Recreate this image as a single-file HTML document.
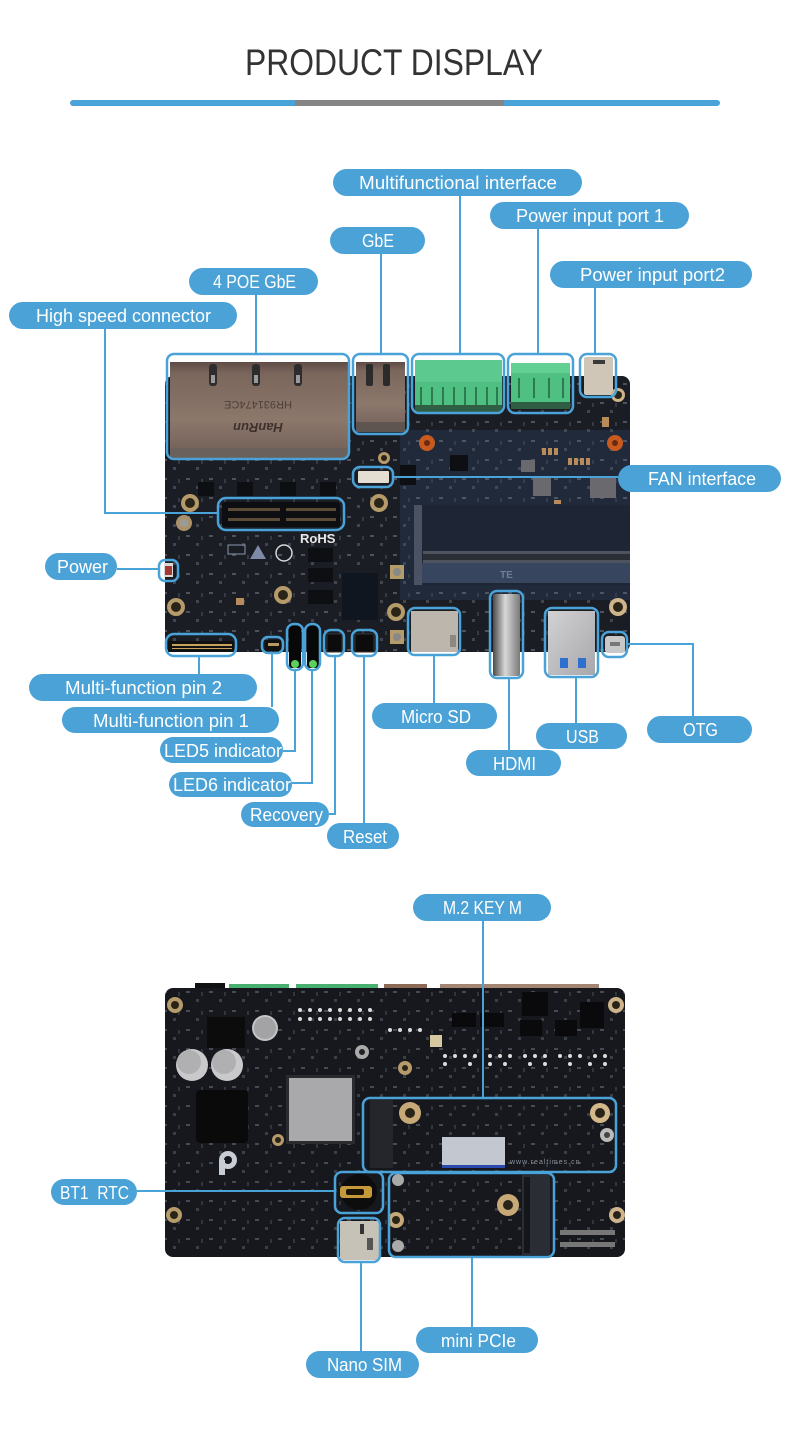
<!DOCTYPE html>
<html>
<head>
<meta charset="utf-8">
<style>
html,body{margin:0;padding:0;background:#fff;}
body{width:790px;height:1433px;overflow:hidden;}
svg{display:block;}
.pt{font-family:"Liberation Sans",sans-serif;font-size:18px;fill:#fff;}
</style>
</head>
<body>
<svg width="790" height="1433" viewBox="0 0 790 1433" xmlns="http://www.w3.org/2000/svg">
<defs>
  <linearGradient id="rj" x1="0" y1="0" x2="0" y2="1">
    <stop offset="0" stop-color="#5e4c45"/>
    <stop offset="0.12" stop-color="#7b665c"/>
    <stop offset="0.6" stop-color="#8c776b"/>
    <stop offset="1" stop-color="#6f5e57"/>
  </linearGradient>
  <linearGradient id="hdmi" x1="0" y1="0" x2="1" y2="0">
    <stop offset="0" stop-color="#4a4a4a"/>
    <stop offset="0.45" stop-color="#d8d8d8"/>
    <stop offset="1" stop-color="#7a7a7a"/>
  </linearGradient>
  <linearGradient id="silver" x1="0" y1="0" x2="1" y2="1">
    <stop offset="0" stop-color="#d2d2d4"/>
    <stop offset="1" stop-color="#a8a8ac"/>
  </linearGradient>
  <pattern id="spk" x="0" y="0" width="23" height="19" patternUnits="userSpaceOnUse">
    <rect x="2" y="3" width="4" height="2" fill="#5a5f6a"/>
    <rect x="12" y="11" width="3" height="3" fill="#4a4f5a"/>
    <rect x="17" y="4" width="2" height="4" fill="#3c414c"/>
  </pattern>
</defs>

<!-- Title -->
<text x="394" y="75" font-family="Liberation Sans, sans-serif" font-size="37" fill="#333" text-anchor="middle" textLength="298" lengthAdjust="spacingAndGlyphs">PRODUCT DISPLAY</text>
<rect x="70" y="100" width="650" height="6" rx="3" fill="#4aa3d8"/>
<rect x="295" y="100" width="209" height="6" fill="#858585"/>

<!-- ================= BOARD 1 ================= -->
<g>
  <rect x="165" y="376" width="465" height="276" rx="8" fill="#1b1d24"/>
  <rect x="400" y="430" width="230" height="170" fill="#212a3b"/>
  <rect x="165" y="376" width="465" height="276" rx="8" fill="url(#spk)" opacity="0.8"/>
  <!-- quad RJ45 -->
  <rect x="170" y="362" width="178" height="96" fill="url(#rj)"/>
  <rect x="170" y="448" width="178" height="10" fill="#6a605c"/>
  <rect x="209" y="364" width="8" height="22" rx="3" fill="#2e2c2c"/>
  <rect x="252" y="364" width="8" height="22" rx="3" fill="#2e2c2c"/>
  <rect x="294" y="364" width="8" height="22" rx="3" fill="#2e2c2c"/>
  <rect x="211" y="375" width="4" height="8" fill="#9a9a9a"/>
  <rect x="254" y="375" width="4" height="8" fill="#9a9a9a"/>
  <rect x="296" y="375" width="4" height="8" fill="#9a9a9a"/>
  <text x="258" y="409" font-family="Liberation Sans, sans-serif" font-size="11" fill="#4e3f38" text-anchor="middle" transform="rotate(180 258 405)">HR931474CE</text>
  <text x="258" y="433" font-family="Liberation Sans, sans-serif" font-size="13" font-weight="bold" font-style="italic" fill="#3e312c" text-anchor="middle" transform="rotate(180 258 428)">HanRun</text>
  <!-- single RJ45 -->
  <rect x="356" y="362" width="49" height="70" fill="url(#rj)"/>
  <rect x="366" y="364" width="7" height="22" rx="2" fill="#2b2b2b"/>
  <rect x="383" y="364" width="7" height="22" rx="2" fill="#2b2b2b"/>
  <rect x="356" y="422" width="49" height="10" fill="#5f5550"/>
  <!-- green 8 pin -->
  <rect x="415" y="360" width="87" height="52" fill="#4fbf82"/>
  <rect x="415" y="360" width="87" height="22" fill="#5cca8e"/>
  <g fill="#2c7a4f">
    <rect x="420" y="387" width="2" height="18"/><rect x="431" y="387" width="2" height="18"/>
    <rect x="442" y="387" width="2" height="18"/><rect x="453" y="387" width="2" height="18"/>
    <rect x="464" y="387" width="2" height="18"/><rect x="475" y="387" width="2" height="18"/>
    <rect x="486" y="387" width="2" height="18"/><rect x="496" y="387" width="2" height="18"/>
  </g>
  <rect x="415" y="405" width="87" height="7" fill="#2f5e44"/>
  <!-- green 4 pin -->
  <rect x="511" y="363" width="59" height="46" fill="#4fbf82"/>
  <rect x="511" y="363" width="59" height="10" fill="#62cf93"/>
  <g fill="#2c7a4f">
    <rect x="518" y="378" width="2" height="20"/><rect x="533" y="378" width="2" height="20"/>
    <rect x="548" y="378" width="2" height="20"/><rect x="562" y="378" width="2" height="20"/>
  </g>
  <rect x="511" y="402" width="59" height="7" fill="#2f5e44"/>
  <!-- DC jack -->
  <rect x="584" y="357" width="29" height="38" rx="2" fill="#cfc6b8"/>
  <rect x="593" y="360" width="12" height="4" fill="#3a3a3a"/>
  <!-- mounting holes -->
  <g>
    <circle cx="190" cy="503" r="9" fill="#b59a6a"/><circle cx="190" cy="503" r="5" fill="#2a2418"/>
    <circle cx="184" cy="523" r="8" fill="#a9926a"/><circle cx="184" cy="523" r="4" fill="#9a9a9a"/>
    <circle cx="176" cy="607" r="9" fill="#b59a6a"/><circle cx="176" cy="607" r="5" fill="#2a2418"/>
    <circle cx="283" cy="595" r="9" fill="#b59a6a"/><circle cx="283" cy="595" r="5" fill="#2a2418"/>
    <circle cx="379" cy="503" r="9" fill="#b59a6a"/><circle cx="379" cy="503" r="5" fill="#2a2418"/>
    <circle cx="384" cy="458" r="6" fill="#b59a6a"/><circle cx="384" cy="458" r="3" fill="#2a2418"/>
    <circle cx="396" cy="612" r="9" fill="#b59a6a"/><circle cx="396" cy="612" r="5" fill="#2a2418"/>
    <circle cx="512" cy="531" r="7" fill="#b59a6a"/><circle cx="512" cy="531" r="4" fill="#2a2418"/>
    <circle cx="618" cy="607" r="9" fill="#cdb48a"/><circle cx="618" cy="607" r="5" fill="#2a2418"/>
    <circle cx="618" cy="395" r="7" fill="#cdb48a"/><circle cx="618" cy="395" r="4" fill="#2a2418"/>
    <circle cx="427" cy="443" r="8" fill="#c85a20"/><circle cx="427" cy="443" r="3" fill="#6a2a10"/>
    <circle cx="615" cy="443" r="8" fill="#c85a20"/><circle cx="615" cy="443" r="3" fill="#6a2a10"/>
    <rect x="390" y="565" width="14" height="14" fill="#b59a6a"/><circle cx="397" cy="572" r="4" fill="#888"/>
    <rect x="390" y="630" width="14" height="14" fill="#b59a6a"/><circle cx="397" cy="637" r="4" fill="#888"/>
  </g>
  <!-- small ICs row -->
  <g fill="#0e0f13">
    <rect x="198" y="482" width="16" height="14"/><rect x="237" y="482" width="16" height="14"/>
    <rect x="280" y="482" width="16" height="14"/><rect x="320" y="482" width="16" height="14"/>
    <rect x="308" y="548" width="25" height="14"/><rect x="308" y="568" width="25" height="14"/><rect x="308" y="590" width="25" height="14"/>
    <rect x="400" y="465" width="16" height="20"/><rect x="450" y="455" width="18" height="16"/>
  </g>
  <g fill="#6a6a6e">
    <rect x="533" y="478" width="18" height="18"/><rect x="590" y="476" width="26" height="22"/>
    <rect x="586" y="512" width="20" height="20"/><rect x="521" y="460" width="14" height="12"/>
  </g>
  <g fill="#b98a5a">
    <rect x="542" y="448" width="4" height="7"/><rect x="548" y="448" width="4" height="7"/><rect x="554" y="448" width="4" height="7"/>
    <rect x="568" y="458" width="4" height="7"/><rect x="574" y="458" width="4" height="7"/><rect x="580" y="458" width="4" height="7"/><rect x="586" y="458" width="4" height="7"/>
    <rect x="554" y="500" width="7" height="4"/><rect x="554" y="506" width="7" height="4"/><rect x="554" y="512" width="7" height="4"/>
    <rect x="236" y="598" width="8" height="7"/><rect x="602" y="417" width="7" height="10"/>
  </g>
  <!-- FAN connector -->
  <rect x="358" y="471" width="31" height="12" rx="1" fill="#e4ddd2"/>
  <!-- high speed connector -->
  <rect x="222" y="502" width="118" height="25" rx="3" fill="#0d0e11"/>
  <rect x="228" y="508" width="52" height="3" fill="#5b4a36"/><rect x="286" y="508" width="50" height="3" fill="#5b4a36"/>
  <rect x="228" y="518" width="52" height="3" fill="#5b4a36"/><rect x="286" y="518" width="50" height="3" fill="#5b4a36"/>
  <text x="300" y="543" font-family="Liberation Sans, sans-serif" font-size="13" font-weight="bold" fill="#e8e8e8">RoHS</text>
  <!-- markings -->
  <rect x="228" y="545" width="17" height="9" fill="none" stroke="#8a97b0" stroke-width="1"/>
  <path d="M250 559 L258 545 L266 559 Z" fill="#7d8ba6"/>
  <circle cx="284" cy="553" r="8" fill="none" stroke="#d8d8d8" stroke-width="1.5"/>
  <!-- chip -->
  <rect x="342" y="573" width="36" height="47" fill="#101620"/>
  <!-- SODIMM -->
  <rect x="418" y="505" width="212" height="80" fill="#1e2535"/>
  <rect x="423" y="551" width="207" height="12" fill="#4e545e"/>
  <rect x="423" y="554" width="207" height="6" fill="#2a2e35"/>
  <rect x="418" y="563" width="212" height="20" fill="#37455f"/>
  <text x="500" y="578" font-family="Liberation Sans, sans-serif" font-size="10" font-weight="bold" fill="#6d7d9a">TE</text>
  <rect x="414" y="505" width="8" height="80" fill="#4a5264"/>
  <!-- power LED -->
  <rect x="164" y="563" width="9" height="14" fill="#d9d9d9"/><rect x="165" y="566" width="7" height="9" fill="#a33a32"/>
  <!-- headers -->
  <rect x="168" y="641" width="66" height="11" fill="#111"/>
  <g fill="#c9a35a">
    <rect x="172" y="644" width="60" height="2"/><rect x="172" y="648" width="60" height="1"/>
  </g>
  <rect x="265" y="640" width="16" height="11" fill="#111"/>
  <rect x="268" y="643" width="11" height="3" fill="#b89a60"/>
  <!-- LEDs -->
  <rect x="289" y="626" width="12" height="42" rx="3" fill="#080808"/>
  <rect x="307" y="626" width="12" height="42" rx="3" fill="#080808"/>
  <circle cx="295" cy="664" r="4" fill="#5ad05a"/><circle cx="313" cy="664" r="4" fill="#5ad05a"/>
  <!-- buttons -->
  <rect x="327" y="634" width="15" height="18" fill="#0c0c0c" stroke="#333" stroke-width="1"/>
  <rect x="355" y="634" width="19" height="18" fill="#0c0c0c" stroke="#333" stroke-width="1"/>
  <!-- micro sd -->
  <rect x="411" y="611" width="47" height="41" fill="#bcb6ac"/>
  <rect x="450" y="635" width="6" height="12" fill="#8e8980"/>
  <!-- HDMI -->
  <rect x="493" y="594" width="27" height="82" rx="2" fill="url(#hdmi)"/>
  <!-- USB -->
  <rect x="548" y="611" width="47" height="64" fill="url(#silver)"/>
  <rect x="560" y="658" width="8" height="10" fill="#2f6fd0"/><rect x="578" y="658" width="8" height="10" fill="#2f6fd0"/>
  <!-- OTG -->
  <rect x="605" y="636" width="20" height="17" rx="3" fill="#c8c8c8"/>
  <rect x="610" y="642" width="10" height="4" fill="#777"/>
</g>

<!-- ================= BOARD 2 ================= -->
<g>
  <rect x="195" y="983" width="30" height="8" fill="#111"/>
  <rect x="229" y="984" width="60" height="8" fill="#47b070"/>
  <rect x="296" y="984" width="82" height="8" fill="#47b070"/>
  <rect x="384" y="984" width="43" height="8" fill="#8d6a55"/>
  <rect x="440" y="984" width="159" height="8" fill="#a48572"/>
  <rect x="165" y="988" width="460" height="269" rx="8" fill="#16181d"/>
  <rect x="165" y="988" width="460" height="269" rx="8" fill="url(#spk)" opacity="0.7"/>
  <!-- white dot grid -->
  <g fill="#dcdcdc">
    <circle cx="300" cy="1010" r="2"/><circle cx="310" cy="1010" r="2"/><circle cx="320" cy="1010" r="2"/><circle cx="330" cy="1010" r="2"/><circle cx="340" cy="1010" r="2"/><circle cx="350" cy="1010" r="2"/><circle cx="360" cy="1010" r="2"/><circle cx="370" cy="1010" r="2"/>
    <circle cx="300" cy="1019" r="2"/><circle cx="310" cy="1019" r="2"/><circle cx="320" cy="1019" r="2"/><circle cx="330" cy="1019" r="2"/><circle cx="340" cy="1019" r="2"/><circle cx="350" cy="1019" r="2"/><circle cx="360" cy="1019" r="2"/><circle cx="370" cy="1019" r="2"/>
    <circle cx="390" cy="1030" r="2"/><circle cx="400" cy="1030" r="2"/><circle cx="410" cy="1030" r="2"/><circle cx="420" cy="1030" r="2"/>
    <circle cx="445" cy="1056" r="2"/><circle cx="455" cy="1056" r="2"/><circle cx="465" cy="1056" r="2"/><circle cx="475" cy="1056" r="2"/><circle cx="490" cy="1056" r="2"/><circle cx="500" cy="1056" r="2"/><circle cx="510" cy="1056" r="2"/><circle cx="525" cy="1056" r="2"/><circle cx="535" cy="1056" r="2"/><circle cx="545" cy="1056" r="2"/><circle cx="560" cy="1056" r="2"/><circle cx="570" cy="1056" r="2"/><circle cx="580" cy="1056" r="2"/><circle cx="595" cy="1056" r="2"/><circle cx="605" cy="1056" r="2"/>
    <circle cx="445" cy="1064" r="2"/><circle cx="470" cy="1064" r="2"/><circle cx="490" cy="1064" r="2"/><circle cx="505" cy="1064" r="2"/><circle cx="530" cy="1064" r="2"/><circle cx="545" cy="1064" r="2"/><circle cx="570" cy="1064" r="2"/><circle cx="590" cy="1064" r="2"/><circle cx="605" cy="1064" r="2"/>
  </g>
  <g fill="#0a0a0c">
    <rect x="452" y="1013" width="24" height="14"/><rect x="480" y="1013" width="24" height="14"/>
    <rect x="520" y="1020" width="22" height="16"/><rect x="555" y="1020" width="22" height="16"/>
    <rect x="522" y="992" width="26" height="24"/><rect x="580" y="1002" width="24" height="26"/>
  </g>
  <rect x="430" y="1035" width="12" height="12" fill="#d6c9a0"/>
  <!-- caps -->
  <rect x="207" y="1017" width="38" height="31" fill="#0c0c0d"/>
  <circle cx="265" cy="1028" r="13" fill="#c4c4c6"/><circle cx="265" cy="1028" r="11" fill="#a3a3a6"/>
  <circle cx="192" cy="1065" r="16" fill="#c9c9cb"/><circle cx="189" cy="1062" r="12" fill="#b0b0b3"/>
  <circle cx="227" cy="1065" r="16" fill="#c9c9cb"/><circle cx="224" cy="1062" r="12" fill="#b0b0b3"/>
  <!-- inductor -->
  <rect x="196" y="1090" width="52" height="53" rx="4" fill="#0a0a0b"/>
  <!-- main chip -->
  <rect x="286" y="1075" width="69" height="69" fill="#2a2b2f"/>
  <rect x="289" y="1078" width="63" height="63" fill="#a9a9ac"/>
  <!-- logo -->
  <circle cx="228" cy="1160" r="9" fill="#c8ccd4"/><circle cx="228" cy="1160" r="4" fill="#16181d"/>
  <rect x="219" y="1160" width="6" height="15" fill="#c8ccd4"/>
  <!-- holes -->
  <g>
    <circle cx="175" cy="1005" r="8" fill="#b59a6a"/><circle cx="175" cy="1005" r="4" fill="#2a2418"/>
    <circle cx="616" cy="1005" r="8" fill="#cdb48a"/><circle cx="616" cy="1005" r="4" fill="#2a2418"/>
    <circle cx="174" cy="1215" r="8" fill="#b59a6a"/><circle cx="174" cy="1215" r="4" fill="#2a2418"/>
    <circle cx="617" cy="1215" r="8" fill="#cdb48a"/><circle cx="617" cy="1215" r="4" fill="#2a2418"/>
    <circle cx="362" cy="1052" r="7" fill="#aaa"/><circle cx="362" cy="1052" r="3" fill="#222"/>
    <circle cx="405" cy="1068" r="7" fill="#b59a6a"/><circle cx="405" cy="1068" r="3" fill="#2a2418"/>
    <circle cx="278" cy="1140" r="6" fill="#b59a6a"/><circle cx="278" cy="1140" r="3" fill="#2a2418"/>
    <circle cx="410" cy="1113" r="11" fill="#c7a977"/><circle cx="410" cy="1113" r="5" fill="#2a2418"/>
    <circle cx="600" cy="1113" r="10" fill="#d3b98a"/><circle cx="600" cy="1113" r="5" fill="#2a2418"/>
    <circle cx="607" cy="1135" r="7" fill="#bbb"/><circle cx="607" cy="1135" r="3" fill="#444"/>
    <circle cx="508" cy="1205" r="11" fill="#c7a977"/><circle cx="508" cy="1205" r="5" fill="#2a2418"/>
    <circle cx="396" cy="1220" r="8" fill="#c7a977"/><circle cx="396" cy="1220" r="4" fill="#2a2418"/>
    <circle cx="398" cy="1180" r="6" fill="#aaa"/><circle cx="398" cy="1246" r="6" fill="#aaa"/>
  </g>
  <!-- M.2 area -->
  <rect x="370" y="1100" width="23" height="68" fill="#24262b"/>
  <rect x="442" y="1137" width="63" height="28" fill="#c3c7cf"/>
  <rect x="442" y="1165" width="63" height="3" fill="#2a4ab0"/>
  <text x="510" y="1164" font-family="Liberation Sans, sans-serif" font-size="7" fill="#8a8f99" letter-spacing="1">www.realtimes.cn</text>
  <!-- RTC -->
  <circle cx="359" cy="1192" r="18" fill="#0d0d0e"/>
  <rect x="340" y="1186" width="32" height="12" rx="3" fill="#c49a3a"/>
  <rect x="346" y="1189" width="18" height="6" rx="2" fill="#1a1408"/>
  <!-- SIM -->
  <rect x="340" y="1221" width="39" height="39" fill="#c7c2b8"/>
  <rect x="360" y="1224" width="4" height="10" fill="#333"/><rect x="367" y="1238" width="6" height="12" fill="#555"/>
  <!-- mini PCIe slot -->
  <rect x="522" y="1175" width="28" height="80" fill="#2a2d33"/>
  <rect x="524" y="1177" width="6" height="76" fill="#15161a"/>
  <rect x="560" y="1230" width="55" height="5" fill="#777"/>
  <rect x="560" y="1242" width="55" height="5" fill="#777"/>
</g>

<!-- ================= CONNECTORS / BOXES ================= -->
<g fill="none" stroke="#4aa3d8" stroke-width="2">
  <path d="M460 196 V354"/>
  <path d="M538 229 V354"/>
  <path d="M381 254 V354"/>
  <path d="M595 288 V354"/>
  <path d="M256 295 V354"/>
  <path d="M105 329 V513 H218"/>
  <path d="M393 477 H618"/>
  <path d="M117 569 H159"/>
  <path d="M199 656 V674"/>
  <path d="M272 653 V707"/>
  <path d="M295 670 V751 H283"/>
  <path d="M312 670 V783 H292"/>
  <path d="M335 656 V814 H329"/>
  <path d="M364 656 V823"/>
  <path d="M434 655 V703"/>
  <path d="M509 678 V750"/>
  <path d="M576 677 V723"/>
  <path d="M627 644 H693 V716"/>
  <path d="M483 921 V1098"/>
  <path d="M137 1191 H335"/>
  <path d="M361 1262 V1351"/>
  <path d="M472 1257 V1327"/>
</g>
<g fill="none" stroke="#4aa3d8" stroke-width="2.5">
  <rect x="167" y="354" width="182" height="105" rx="7"/>
  <rect x="353" y="354" width="55" height="80" rx="7"/>
  <rect x="412" y="354" width="92" height="59" rx="7"/>
  <rect x="508" y="354" width="65" height="59" rx="7"/>
  <rect x="580" y="354" width="36" height="43" rx="7"/>
  <rect x="353" y="467" width="40" height="20" rx="7"/>
  <rect x="218" y="498" width="126" height="32" rx="8"/>
  <rect x="159" y="560" width="19" height="21" rx="6"/>
  <rect x="166" y="634" width="70" height="22" rx="8"/>
  <rect x="262" y="637" width="21" height="16" rx="6"/>
  <rect x="287" y="624" width="16" height="46" rx="7"/>
  <rect x="305" y="624" width="15" height="46" rx="7"/>
  <rect x="324" y="630" width="20" height="26" rx="7"/>
  <rect x="352" y="630" width="25" height="26" rx="7"/>
  <rect x="408" y="608" width="52" height="47" rx="7"/>
  <rect x="490" y="591" width="33" height="87" rx="7"/>
  <rect x="545" y="608" width="53" height="69" rx="7"/>
  <rect x="602" y="632" width="25" height="25" rx="7"/>
  <rect x="363" y="1098" width="253" height="74" rx="7"/>
  <rect x="335" y="1172" width="48" height="41" rx="7"/>
  <rect x="338" y="1218" width="42" height="44" rx="7"/>
  <rect x="389" y="1173" width="165" height="84" rx="7"/>
</g>

<!-- ================= PILLS ================= -->
<g fill="#4ba2d6">
  <rect x="333" y="169" width="249" height="27" rx="13.5"/>
  <rect x="490" y="202" width="199" height="27" rx="13.5"/>
  <rect x="330" y="227" width="95" height="27" rx="13.5"/>
  <rect x="550" y="261" width="202" height="27" rx="13.5"/>
  <rect x="189" y="268" width="129" height="27" rx="13.5"/>
  <rect x="9" y="302" width="228" height="27" rx="13.5"/>
  <rect x="618" y="465" width="163" height="27" rx="13.5"/>
  <rect x="45" y="553" width="72" height="27" rx="13.5"/>
  <rect x="29" y="674" width="228" height="27" rx="13.5"/>
  <rect x="62" y="707" width="217" height="26" rx="13"/>
  <rect x="160" y="737" width="123" height="26" rx="13"/>
  <rect x="169" y="772" width="123" height="25" rx="12.5"/>
  <rect x="241" y="802" width="88" height="25" rx="12.5"/>
  <rect x="327" y="823" width="72" height="26" rx="13"/>
  <rect x="372" y="703" width="125" height="26" rx="13"/>
  <rect x="466" y="750" width="95" height="26" rx="13"/>
  <rect x="536" y="723" width="91" height="26" rx="13"/>
  <rect x="647" y="716" width="105" height="27" rx="13.5"/>
  <rect x="413" y="894" width="138" height="27" rx="13.5"/>
  <rect x="51" y="1179" width="86" height="26" rx="13"/>
  <rect x="416" y="1327" width="122" height="26" rx="13"/>
  <rect x="306" y="1351" width="113" height="27" rx="13.5"/>
</g>
<g class="pt" text-anchor="middle" lengthAdjust="spacingAndGlyphs">
  <text x="458" y="189" textLength="198" lengthAdjust="spacingAndGlyphs">Multifunctional interface</text>
  <text x="590" y="222" textLength="148" lengthAdjust="spacingAndGlyphs">Power input port 1</text>
  <text x="378" y="247" textLength="32" lengthAdjust="spacingAndGlyphs">GbE</text>
  <text x="652.5" y="281" textLength="145" lengthAdjust="spacingAndGlyphs">Power input port2</text>
  <text x="254.5" y="288" textLength="83" lengthAdjust="spacingAndGlyphs">4 POE GbE</text>
  <text x="123.5" y="322" textLength="175" lengthAdjust="spacingAndGlyphs">High speed connector</text>
  <text x="702" y="485" textLength="108" lengthAdjust="spacingAndGlyphs">FAN interface</text>
  <text x="82.5" y="573" textLength="51" lengthAdjust="spacingAndGlyphs">Power</text>
  <text x="143.5" y="694" textLength="157" lengthAdjust="spacingAndGlyphs">Multi-function pin 2</text>
  <text x="171" y="727" textLength="156" lengthAdjust="spacingAndGlyphs">Multi-function pin 1</text>
  <text x="223" y="757" textLength="118" lengthAdjust="spacingAndGlyphs">LED5 indicator</text>
  <text x="232" y="791" textLength="118" lengthAdjust="spacingAndGlyphs">LED6 indicator</text>
  <text x="286.5" y="821" textLength="73" lengthAdjust="spacingAndGlyphs">Recovery</text>
  <text x="365" y="843" textLength="44" lengthAdjust="spacingAndGlyphs">Reset</text>
  <text x="436" y="723" textLength="70" lengthAdjust="spacingAndGlyphs">Micro SD</text>
  <text x="514.5" y="770" textLength="43" lengthAdjust="spacingAndGlyphs">HDMI</text>
  <text x="582.5" y="743" textLength="33" lengthAdjust="spacingAndGlyphs">USB</text>
  <text x="700.5" y="736" textLength="35" lengthAdjust="spacingAndGlyphs">OTG</text>
  <text x="482.5" y="914" textLength="79" lengthAdjust="spacingAndGlyphs">M.2 KEY M</text>
  <text x="94.5" y="1199" textLength="69" lengthAdjust="spacingAndGlyphs" xml:space="preserve">BT1  RTC</text>
  <text x="478.5" y="1347" textLength="75" lengthAdjust="spacingAndGlyphs">mini PCIe</text>
  <text x="364.5" y="1371" textLength="75" lengthAdjust="spacingAndGlyphs">Nano SIM</text>
</g>
</svg>
</body>
</html>
